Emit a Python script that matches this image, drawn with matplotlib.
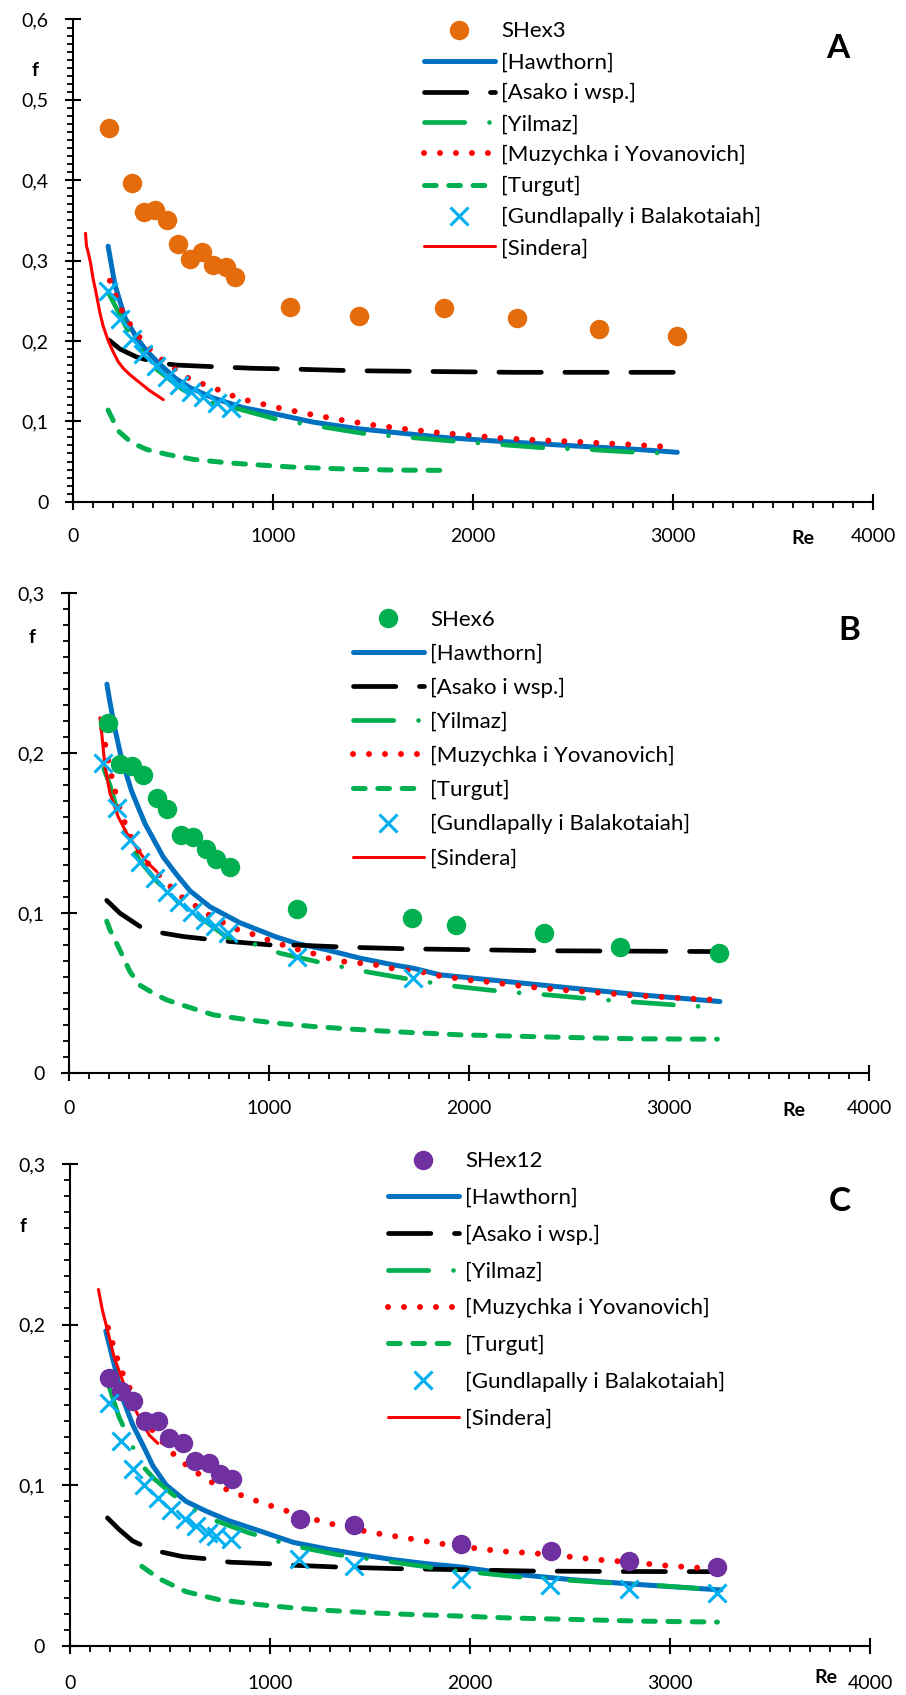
import matplotlib
matplotlib.use("Agg")
import matplotlib.pyplot as plt
from matplotlib.ticker import MultipleLocator, FuncFormatter

plt.rcParams['font.family'] = ['Lato', 'DejaVu Sans']
plt.rcParams['lines.scale_dashes'] = False

# ---------------- data: panel A (SHex3) ----------------
re_a_exp = [179, 295, 353, 408, 469, 526, 583, 642, 697, 762, 808, 1085, 1430, 1852, 2220, 2630, 3018]
f_a_exp = [0.465, 0.396, 0.361, 0.363, 0.351, 0.321, 0.302, 0.311, 0.295, 0.292, 0.279, 0.242, 0.231, 0.241, 0.229, 0.215, 0.206]
re_a_haw = [174, 208, 258, 317, 367, 433, 508, 583, 700, 850, 1033, 1200, 1417, 1850, 2170, 2503, 2837, 3020]
f_a_haw = [0.318, 0.270, 0.229, 0.204, 0.1875, 0.171, 0.154, 0.142, 0.129, 0.117, 0.108, 0.099, 0.091, 0.080, 0.0745, 0.0695, 0.0648, 0.0615]
re_a_asa = [179, 233, 317, 417, 517, 700, 900, 1100, 1400, 1800, 2200, 2600, 3016]
f_a_asa = [0.201, 0.190, 0.180, 0.173, 0.170, 0.168, 0.166, 0.165, 0.163, 0.162, 0.161, 0.161, 0.161]
re_a_yil = [180, 275, 400, 550, 700, 833, 1025, 1250, 1458, 1700, 1917, 2145, 2370, 2595, 2820, 2990]
f_a_yil = [0.258, 0.212, 0.168, 0.139, 0.122, 0.115, 0.102, 0.093, 0.0846, 0.0796, 0.075, 0.0709, 0.0668, 0.0647, 0.0614, 0.060]
re_a_muz = [183, 242, 283, 333, 383, 447, 513, 580, 653, 708, 783, 863, 1022, 1180, 1342, 1500, 1662, 1822, 1987, 2150, 2312, 2473, 2637, 2798, 2990]
f_a_muz = [0.275, 0.238, 0.221, 0.204, 0.190, 0.176, 0.164, 0.153, 0.146, 0.141, 0.133, 0.1265, 0.117, 0.109, 0.1016, 0.0954, 0.0904, 0.086, 0.0825, 0.079, 0.0767, 0.0751, 0.073, 0.0709, 0.068]
re_a_tur = [174, 225, 292, 367, 467, 600, 767, 933, 1100, 1267, 1433, 1600, 1850]
f_a_tur = [0.114, 0.088, 0.0734, 0.065, 0.059, 0.0527, 0.0485, 0.0456, 0.0431, 0.0415, 0.0402, 0.0394, 0.039]
re_a_gun = [174, 234, 292, 350, 414, 471, 529, 587, 651, 717, 790]
f_a_gun = [0.262, 0.227, 0.202, 0.184, 0.169, 0.155, 0.145, 0.136, 0.130, 0.123, 0.117]
re_a_sin = [61, 66, 75, 87, 100, 110, 133, 150, 175, 200, 225, 250, 283, 333, 383, 450]
f_a_sin = [0.334, 0.318, 0.310, 0.296, 0.276, 0.265, 0.235, 0.218, 0.200, 0.186, 0.174, 0.166, 0.158, 0.148, 0.138, 0.127]

# ---------------- data: panel B (SHex6) ----------------
re_b_exp = [195, 253, 312, 370, 437, 490, 557, 617, 683, 733, 803, 1140, 1715, 1933, 2373, 2753, 3250]
f_b_exp = [0.219, 0.193, 0.192, 0.186, 0.172, 0.165, 0.149, 0.1475, 0.140, 0.134, 0.129, 0.1025, 0.097, 0.0927, 0.0879, 0.0791, 0.075]
re_b_haw = [188, 200, 228, 262, 312, 378, 470, 537, 603, 703, 853, 1037, 1140, 1287, 1453, 1620, 1720, 1853, 2187, 2520, 2853, 3253]
f_b_haw = [0.243, 0.234, 0.215, 0.196, 0.176, 0.156, 0.135, 0.124, 0.114, 0.104, 0.094, 0.085, 0.081, 0.0771, 0.0719, 0.0677, 0.0656, 0.0615, 0.0573, 0.0531, 0.049, 0.0448]
re_b_asa = [187, 253, 353, 470, 570, 687, 803, 1003, 1140, 1400, 1700, 2000, 2400, 2800, 3240]
f_b_asa = [0.108, 0.100, 0.0917, 0.0875, 0.0854, 0.0838, 0.0823, 0.0802, 0.080, 0.0787, 0.0777, 0.0772, 0.0765, 0.0763, 0.076]
re_b_yil = [173, 203, 250, 300, 350, 430, 490, 550, 612, 680, 787, 950, 1053, 1270, 1503, 1720, 1937, 2170, 2387, 2620, 2837, 3070, 3200]
f_b_yil = [0.190, 0.180, 0.160, 0.145, 0.133, 0.121, 0.113, 0.106, 0.100, 0.095, 0.085, 0.0798, 0.075, 0.0688, 0.063, 0.0583, 0.0542, 0.051, 0.049, 0.0463, 0.0444, 0.0423, 0.0415]
re_b_muz = [165, 203, 245, 290, 340, 400, 487, 550, 615, 682, 750, 820, 903, 982, 1057, 1137, 1215, 1295, 1370, 1453, 1533, 1612, 1695, 1775, 1853, 1933, 2015, 2095, 2177, 2257, 2337, 2420, 2498, 2580, 2660, 2742, 2822, 2903, 2983, 3065, 3147, 3240]
f_b_muz = [0.215, 0.190, 0.168, 0.152, 0.140, 0.130, 0.119, 0.111, 0.106, 0.100, 0.0954, 0.0906, 0.0875, 0.0838, 0.0806, 0.0775, 0.075, 0.0719, 0.0698, 0.0688, 0.0677, 0.0656, 0.0642, 0.063, 0.0608, 0.0594, 0.0579, 0.0571, 0.0558, 0.0546, 0.0535, 0.0525, 0.0517, 0.051, 0.0502, 0.0494, 0.0485, 0.0481, 0.0475, 0.0469, 0.0463, 0.0458]
re_b_tur = [187, 203, 245, 303, 353, 420, 487, 587, 720, 870, 1037, 1220, 1420, 1620, 1787, 1953, 2187, 2520, 2853, 3240]
f_b_tur = [0.095, 0.0896, 0.079, 0.0635, 0.055, 0.050, 0.0458, 0.0417, 0.0365, 0.0338, 0.0313, 0.0292, 0.0275, 0.026, 0.025, 0.024, 0.0233, 0.0223, 0.0215, 0.0213]
re_b_gun = [170, 237, 303, 353, 428, 487, 550, 612, 678, 728, 795, 1137, 1720]
f_b_gun = [0.194, 0.1656, 0.1458, 0.132, 0.122, 0.1135, 0.1067, 0.101, 0.0958, 0.0917, 0.0875, 0.0729, 0.0594]
re_b_sin = [153, 162, 178, 203, 245, 287, 337, 387, 437]
f_b_sin = [0.222, 0.2125, 0.192, 0.175, 0.160, 0.150, 0.1406, 0.132, 0.126]

# ---------------- data: panel C (SHex12) ----------------
re_c_exp = [196, 255, 317, 377, 439, 494, 564, 623, 695, 749, 812, 1151, 1419, 1953, 2405, 2796, 3237]
f_c_exp = [0.167, 0.1586, 0.1523, 0.1397, 0.140, 0.1293, 0.126, 0.115, 0.114, 0.1067, 0.1038, 0.079, 0.0749, 0.0633, 0.0592, 0.0527, 0.049]
re_c_haw = [179, 221, 263, 313, 372, 414, 481, 581, 682, 799, 950, 1117, 1285, 1452, 1620, 1787, 1955, 2184, 2518, 2853, 3254]
f_c_haw = [0.196, 0.175, 0.154, 0.1377, 0.123, 0.112, 0.100, 0.0898, 0.0837, 0.0776, 0.0714, 0.0643, 0.0602, 0.0567, 0.0535, 0.051, 0.049, 0.045, 0.041, 0.038, 0.0347]
re_c_asa = [187, 245, 312, 353, 462, 562, 682, 799, 1000, 1134, 1335, 1620, 1955, 2300, 2700, 3237]
f_c_asa = [0.0796, 0.0724, 0.0653, 0.0629, 0.0582, 0.0555, 0.0541, 0.052, 0.051, 0.050, 0.049, 0.048, 0.0473, 0.0465, 0.0462, 0.0461]
re_c_yil = [196, 246, 296, 347, 420, 497, 587, 690, 891, 1003, 1117, 1335, 1561, 1787, 1892, 2000, 2234, 2443, 2677, 2903, 3137]
f_c_yil = [0.161, 0.142, 0.129, 0.114, 0.104, 0.0959, 0.0867, 0.0796, 0.0704, 0.0663, 0.0622, 0.0567, 0.053, 0.049, 0.047, 0.0459, 0.0429, 0.0412, 0.0392, 0.0378, 0.0357]
re_c_muz = [190, 216, 241, 268, 320, 370, 422, 477, 534, 598, 665, 732, 809, 888, 963, 1039, 1114, 1193, 1273, 1352, 1511, 1670, 1832, 1992, 2154, 2318, 2477, 2640, 2805, 2967, 3129, 3240]
f_c_muz = [0.198, 0.187, 0.177, 0.168, 0.155, 0.143, 0.132, 0.125, 0.117, 0.111, 0.105, 0.100, 0.0959, 0.0922, 0.0888, 0.0857, 0.0827, 0.0796, 0.0769, 0.0745, 0.0704, 0.0673, 0.0639, 0.0612, 0.0588, 0.0576, 0.0557, 0.0535, 0.052, 0.050, 0.0486, 0.048]
re_c_tur = [359, 445, 578, 745, 950, 1117, 1285, 1452, 1620, 1955, 2184, 2518, 2853, 3237]
f_c_tur = [0.0494, 0.0418, 0.0337, 0.0286, 0.0255, 0.0235, 0.022, 0.0208, 0.0198, 0.0184, 0.0173, 0.0163, 0.0153, 0.0147]
re_c_gun = [196, 255, 317, 372, 439, 506, 573, 631, 690, 732, 807, 1147, 1419, 1953, 2401, 2796, 3237]
f_c_gun = [0.151, 0.1276, 0.110, 0.100, 0.0918, 0.0847, 0.0786, 0.0745, 0.0704, 0.0684, 0.0663, 0.0541, 0.0494, 0.0418, 0.0378, 0.0351, 0.0327]
re_c_sin = [142, 162, 188, 221, 263, 305, 347, 397, 439]
f_c_sin = [0.2218, 0.2088, 0.196, 0.1795, 0.165, 0.152, 0.142, 0.131, 0.126]

labels = ['[Hawthorn]', '[Asako i wsp.]', '[Yilmaz]', '[Muzychka i Yovanovich]',
          '[Turgut]', '[Gundlapally i Balakotaiah]', '[Sindera]']

# line styles for the correlations
styles = [
    dict(color='#0070C0', lw=3.6, solid_capstyle='round'),
    dict(color='black', lw=3.4, ls=(0, (30.5, 17)), dash_capstyle='round'),
    dict(color='#00B050', lw=3.4, ls=(0, (29, 17.8, 0.01, 17.8)), dash_capstyle='round'),
    dict(color='#FF0000', lw=4.3, ls=(0, (0.01, 11.5)), dash_capstyle='round'),
    dict(color='#00B050', lw=3.6, ls=(0, (8.4, 9.1)), dash_capstyle='round'),
    dict(color='#00B0F0', lw=0, marker='x', ms=13.5, mew=2.2),
    dict(color='#FF0000', lw=2.2, solid_capstyle='round'),
]

fmt = FuncFormatter(lambda v, p: '0' if abs(v) < 1e-9 else ('%.1f' % v).replace('.', ','))


def panel(ax, exp, models, exp_name, exp_color, ymax, letter, leg_xy, spacing, f_xy, re_xy, xpad):
    lines = []
    for (x, y), st in zip(models, styles):
        z = 4 if st.get('marker') == 'x' else 2
        ln, = ax.plot(x, y, zorder=z, **st)
        lines.append(ln)
    pts, = ax.plot(exp[0], exp[1], 'o', color=exp_color, ms=13, ls='none', zorder=3)

    ax.set_xlim(0, 4000)
    ax.set_ylim(0, ymax)
    ax.xaxis.set_major_locator(MultipleLocator(1000))
    ax.xaxis.set_minor_locator(MultipleLocator(100))
    ax.yaxis.set_major_locator(MultipleLocator(0.1))
    ax.yaxis.set_minor_locator(MultipleLocator(0.01))
    ax.yaxis.set_major_formatter(fmt)
    for s in ['top', 'right']:
        ax.spines[s].set_visible(False)
    for s in ['left', 'bottom']:
        ax.spines[s].set_linewidth(1.5)
    ax.tick_params(which='major', direction='inout', length=12, width=1.5, labelsize=14)
    ax.tick_params(which='minor', direction='out', length=4.5, width=1.3)
    ax.tick_params(axis='x', which='major', pad=xpad)
    ax.tick_params(axis='y', which='major', pad=12)

    ax.text(f_xy[0], f_xy[1], 'f', transform=ax.transAxes, fontsize=14, fontweight='bold',
            ha='center', va='center')
    ax.text(re_xy[0], re_xy[1], 'Re', transform=ax.transAxes, fontsize=14, fontweight='bold',
            ha='center', va='center', clip_on=False)
    ax.text(letter[1], letter[2], letter[0], transform=ax.transAxes, fontsize=24,
            fontweight='bold', ha='center', va='center')

    ax.legend([pts] + lines, [exp_name] + labels, loc='upper left', bbox_to_anchor=leg_xy,
              frameon=False, fontsize=16, handlelength=3.2, handletextpad=0.3,
              borderpad=0, borderaxespad=0, labelspacing=spacing)


fig = plt.figure(figsize=(9.06, 16.95), dpi=100)
ax_a = fig.add_axes([0.0809, 0.7040, 0.8830, 0.2845])
ax_b = fig.add_axes([0.0765, 0.3668, 0.8830, 0.2834])
ax_c = fig.add_axes([0.0773, 0.0291, 0.8830, 0.2842])

panel(ax_a, (re_a_exp, f_a_exp),
      [(re_a_haw, f_a_haw), (re_a_asa, f_a_asa), (re_a_yil, f_a_yil), (re_a_muz, f_a_muz),
       (re_a_tur, f_a_tur), (re_a_gun, f_a_gun), (re_a_sin, f_a_sin)],
      'SHex3', '#E46C0A', 0.6, ('A', 0.956, 0.940), (0.438, 0.996), 0.49,
      (-0.048, 0.895), (0.912, -0.076), 13)
panel(ax_b, (re_b_exp, f_b_exp),
      [(re_b_haw, f_b_haw), (re_b_asa, f_b_asa), (re_b_yil, f_b_yil), (re_b_muz, f_b_muz),
       (re_b_tur, f_b_tur), (re_b_gun, f_b_gun), (re_b_sin, f_b_sin)],
      'SHex6', '#00B050', 0.3, ('B', 0.975, 0.922), (0.354, 0.965), 0.63,
      (-0.047, 0.907), (0.906, -0.078), 13)
panel(ax_c, (re_c_exp, f_c_exp),
      [(re_c_haw, f_c_haw), (re_c_asa, f_c_asa), (re_c_yil, f_c_yil), (re_c_muz, f_c_muz),
       (re_c_tur, f_c_tur), (re_c_gun, f_c_gun), (re_c_sin, f_c_sin)],
      'SHex12', '#7030A0', 0.3, ('C', 0.962, 0.923), (0.397, 1.026), 0.75,
      (-0.059, 0.87), (0.945, -0.066), 15)

fig.savefig('out.png', dpi=100)
